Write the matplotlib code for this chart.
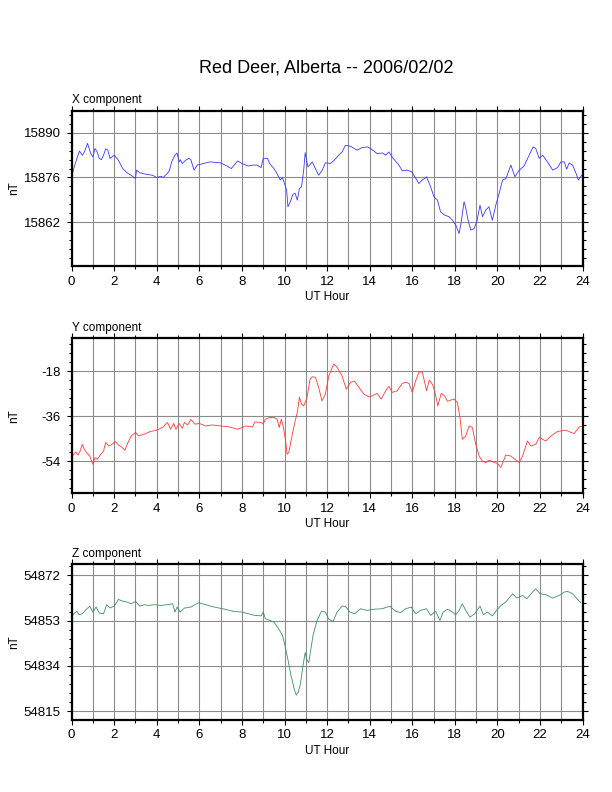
import numpy as np
import matplotlib
matplotlib.use('Agg')
import matplotlib.pyplot as plt
from matplotlib.ticker import MultipleLocator

plt.rcParams['font.family'] = ['Liberation Sans', 'DejaVu Sans']
plt.rcParams['axes.unicode_minus'] = False

# X component (nT) vs UT hour
x_hour = [0.0, 0.1, 0.3, 0.37, 0.5, 0.6, 0.75, 0.9, 1.0, 1.1, 1.2, 1.3, 1.4, 1.5, 1.6,
          1.7, 1.8, 1.9, 2.0, 2.2, 2.4, 2.6, 2.8, 3.0, 3.05, 3.2, 3.5, 3.8, 4.0, 4.2,
          4.3, 4.5, 4.6, 4.7, 4.85, 4.95, 5.05, 5.1, 5.2, 5.35, 5.5, 5.6, 5.75, 5.9,
          6.2, 6.5, 7.0, 7.3, 7.5, 7.8, 8.0, 8.3, 8.5, 8.7, 8.9, 9.0, 9.2, 9.3, 9.5,
          9.6, 9.8, 9.9, 10.0, 10.1, 10.16, 10.3, 10.4, 10.5, 10.6, 10.7, 10.8, 10.9,
          10.97, 11.1, 11.3, 11.45, 11.6, 11.77, 11.92, 12.15, 12.3, 12.55, 12.7,
          12.86, 13.1, 13.4, 13.65, 13.9, 14.1, 14.35, 14.6, 14.75, 14.9, 15.1, 15.37,
          15.53, 15.76, 15.97, 16.16, 16.31, 16.47, 16.67, 16.86, 17.02, 17.18, 17.33,
          17.52, 17.73, 17.88, 18.04, 18.2, 18.3, 18.43, 18.5, 18.62, 18.75, 18.9,
          19.03, 19.18, 19.3, 19.45, 19.6, 19.76, 19.92, 20.08, 20.24, 20.4, 20.63,
          20.82, 21.02, 21.25, 21.49, 21.68, 21.8, 21.96, 22.12, 22.35, 22.6, 22.82,
          22.98, 23.14, 23.25, 23.37, 23.53, 23.69, 23.8, 23.95]
x_nt = [15876.0, 15878.8, 15883.0, 15884.3, 15883.0, 15884.0, 15886.7, 15883.5, 15882.5,
        15885.1, 15884.0, 15882.0, 15881.6, 15883.0, 15885.0, 15884.6, 15882.0, 15882.5,
        15883.0, 15881.4, 15878.8, 15877.5, 15876.7, 15875.7, 15878.3, 15877.5, 15877.0,
        15876.7, 15876.0, 15876.4, 15876.0, 15877.3, 15878.3, 15880.9, 15883.0, 15883.7,
        15880.9, 15881.6, 15880.4, 15881.4, 15882.0, 15881.6, 15878.3, 15879.9, 15880.4,
        15880.9, 15880.6, 15879.6, 15878.8, 15881.2, 15880.4, 15879.6, 15879.9, 15879.9,
        15879.1, 15882.0, 15882.0, 15880.4, 15878.8, 15877.8, 15875.2, 15876.0, 15874.1,
        15872.0, 15866.8, 15868.9, 15870.8, 15871.0, 15868.9, 15872.5, 15873.1, 15878.3,
        15883.8, 15879.3, 15880.9, 15878.8, 15876.7, 15878.3, 15880.6, 15880.4, 15881.2,
        15883.0, 15884.0, 15886.1, 15885.8, 15884.6, 15885.4, 15885.6, 15884.8, 15883.5,
        15883.7, 15883.0, 15884.0, 15882.0, 15879.9, 15878.1, 15878.3, 15877.8, 15875.7,
        15874.1, 15875.2, 15876.2, 15873.1, 15869.9, 15868.9, 15865.2, 15864.2, 15863.7,
        15862.6, 15861.1, 15858.4, 15862.1, 15868.4, 15866.8, 15862.6, 15859.5, 15860.0,
        15862.1, 15867.3, 15863.7, 15865.8, 15866.8, 15862.6, 15867.3, 15871.0, 15875.2,
        15875.7, 15879.9, 15876.2, 15878.3, 15879.6, 15883.0, 15885.6, 15885.1, 15882.0,
        15883.0, 15880.9, 15878.3, 15879.1, 15880.9, 15880.9, 15878.6, 15880.6, 15879.9,
        15877.3, 15875.2, 15876.7]

# Y component (nT)
y_hour = [0.0, 0.1, 0.2, 0.3, 0.4, 0.5, 0.6, 0.7, 0.85, 1.0, 1.1, 1.2, 1.4, 1.5, 1.6,
          1.75, 1.9, 2.05, 2.2, 2.35, 2.5, 2.65, 2.8, 3.0, 3.15, 3.4, 3.7, 4.0, 4.3,
          4.5, 4.65, 4.8, 4.9, 5.05, 5.2, 5.3, 5.45, 5.6, 5.8, 6.0, 6.3, 6.6, 7.0, 7.4,
          7.8, 8.2, 8.5, 8.6, 8.9, 9.0, 9.1, 9.3, 9.5, 9.65, 9.75, 9.85, 9.95, 10.05,
          10.12, 10.2, 10.35, 10.5, 10.6, 10.7, 10.8, 10.9, 11.05, 11.2, 11.3, 11.45,
          11.6, 11.76, 11.92, 12.08, 12.31, 12.47, 12.7, 12.9, 13.1, 13.29, 13.49,
          13.73, 13.96, 14.12, 14.35, 14.54, 14.75, 14.9, 15.06, 15.29, 15.53, 15.69,
          15.84, 16.0, 16.16, 16.31, 16.47, 16.67, 16.8, 16.94, 17.05, 17.2, 17.36,
          17.52, 17.65, 17.8, 17.96, 18.12, 18.24, 18.35, 18.51, 18.67, 18.82, 18.98,
          19.14, 19.29, 19.45, 19.61, 19.76, 20.0, 20.16, 20.39, 20.63, 20.82, 21.02,
          21.18, 21.41, 21.57, 21.8, 21.96, 22.27, 22.51, 22.82, 23.22, 23.45, 23.61,
          23.84, 24.0]
y_nt = [-52.5, -51.2, -50.3, -51.5, -49.9, -47.2, -49.2, -50.5, -51.9, -55.2, -52.5,
        -53.2, -50.9, -49.9, -46.5, -47.9, -47.2, -46.1, -47.5, -48.3, -49.6, -46.5,
        -43.9, -42.5, -43.9, -43.2, -42.1, -41.6, -40.3, -38.5, -41.2, -38.9, -41.2,
        -38.9, -40.8, -38.5, -39.5, -37.3, -39.2, -38.9, -39.9, -39.5, -39.9, -40.3,
        -41.2, -39.9, -40.3, -38.3, -38.5, -39.2, -37.2, -36.5, -36.5, -37.2, -40.5,
        -37.2, -40.5, -45.9, -51.2, -50.5, -43.9, -37.9, -34.5, -28.5, -31.2, -31.9,
        -28.8, -21.2, -20.3, -20.5, -24.5, -29.9, -27.2, -19.9, -15.2, -16.5, -19.9,
        -25.2, -22.5, -22.1, -24.5, -27.2, -28.3, -27.9, -26.9, -29.2, -25.9, -24.1,
        -26.5, -25.9, -22.9, -22.5, -22.9, -26.5, -21.9, -18.5, -18.3, -25.9, -21.6,
        -23.2, -25.9, -31.9, -26.9, -27.9, -30.1, -29.6, -29.2, -30.5, -36.5, -45.2,
        -43.9, -39.9, -40.5, -47.2, -51.9, -53.9, -54.5, -53.6, -54.1, -54.9, -56.5,
        -51.5, -51.9, -53.2, -54.5, -51.9, -45.9, -47.9, -47.2, -44.5, -45.9, -43.9,
        -42.1, -41.6, -42.5, -42.9, -40.3, -39.9]

# Z component (nT)
z_hour = [0.0, 0.1, 0.25, 0.35, 0.5, 0.7, 0.85, 1.0, 1.15, 1.3, 1.5, 1.65, 1.8, 2.0,
          2.2, 2.4, 2.6, 2.8, 3.0, 3.2, 3.4, 3.6, 3.9, 4.2, 4.5, 4.75, 4.85, 4.95, 5.1,
          5.3, 5.6, 5.95, 6.3, 6.7, 7.2, 7.6, 8.0, 8.3, 8.6, 8.9, 9.0, 9.1, 9.3, 9.5,
          9.7, 9.9, 10.0, 10.15, 10.3, 10.45, 10.55, 10.65, 10.75, 10.87, 10.97, 11.05,
          11.14, 11.34, 11.53, 11.73, 11.92, 12.08, 12.28, 12.47, 12.7, 12.86, 13.07,
          13.29, 13.57, 13.88, 14.2, 14.59, 14.95, 15.22, 15.45, 15.69, 15.95, 16.16,
          16.39, 16.67, 16.86, 17.1, 17.3, 17.45, 17.65, 17.84, 18.04, 18.2, 18.35,
          18.51, 18.71, 18.93, 19.18, 19.34, 19.53, 19.76, 19.92, 20.16, 20.39, 20.71,
          20.91, 21.18, 21.38, 21.65, 21.8, 22.0, 22.27, 22.59, 22.9, 23.14, 23.29,
          23.53, 23.73, 23.92]
z_nt = [54854.5, 54855.9, 54856.9, 54855.5, 54855.9, 54857.8, 54859.1, 54856.6, 54858.7,
        54856.2, 54855.9, 54859.7, 54858.3, 54859.1, 54861.9, 54861.2, 54860.8, 54860.1,
        54861.1, 54859.1, 54859.7, 54859.4, 54859.7, 54859.4, 54859.7, 54860.1, 54856.6,
        54858.7, 54856.6, 54858.3, 54858.7, 54860.5, 54859.7, 54858.7, 54857.8, 54856.9,
        54856.6, 54855.9, 54855.2, 54855.0, 54856.6, 54853.8, 54853.1, 54852.4, 54849.9,
        54846.9, 54843.4, 54837.1, 54830.1, 54824.5, 54821.7, 54823.1, 54826.6, 54834.3,
        54839.6, 54836.5, 54835.4, 54846.9, 54853.1, 54856.9, 54856.6, 54853.6, 54852.7,
        54856.6, 54859.1, 54859.0, 54856.6, 54855.9, 54858.0, 54857.3, 54857.8, 54858.0,
        54859.1, 54856.9, 54856.4, 54858.0, 54858.7, 54855.9, 54857.3, 54858.0, 54855.2,
        54856.9, 54853.1, 54856.6, 54857.8, 54856.9, 54855.5, 54857.3, 54860.1, 54857.3,
        54854.5, 54855.9, 54859.1, 54855.5, 54856.6, 54855.0, 54856.9, 54859.4, 54860.8,
        54864.3, 54862.5, 54863.6, 54862.2, 54865.0, 54866.4, 54864.3, 54863.9, 54862.5,
        54863.6, 54865.0, 54865.3, 54864.3, 54862.2, 54860.5]

panels = [
    ('X component', x_hour, x_nt, '#3a3aff', (15848.2, 15896.9), [15862, 15876, 15890], 14),
    ('Y component', y_hour, y_nt, '#ff3a3a', (-66.8, -4.9), [-54, -36, -18], 18),
    ('Z component', z_hour, z_nt, '#3f8f5f', (54811.4, 54876.6), [54815, 54834, 54853, 54872], 19),
]
bottoms = [0.664, 0.377, 0.0913]

fig = plt.figure(figsize=(6.12, 7.92), dpi=100)
fig.text(0.533, 0.914, 'Red Deer, Alberta -- 2006/02/02', ha='center', va='center', fontsize=13)

for (name, t, v, color, ylim, yticks, step), b in zip(panels, bottoms):
    ax = fig.add_axes([0.117, b, 0.835, 0.196])
    ax.plot(t, v, color=color, lw=0.6)
    ax.set_xlim(0, 24)
    ax.set_ylim(*ylim)
    ax.xaxis.set_major_locator(MultipleLocator(2))
    ax.xaxis.set_minor_locator(MultipleLocator(1))
    ax.set_yticks(yticks)
    ax.yaxis.set_minor_locator(MultipleLocator(step / 5))
    ax.grid(True, which='major', color='#8c8c8c', lw=0.8)
    ax.grid(True, which='minor', axis='x', color='#8c8c8c', lw=0.8)
    ax.tick_params(which='both', direction='out', top=True, right=True,
                   labelsize=9.5, width=0.8, colors='black')
    ax.tick_params(which='major', length=3.5)
    ax.tick_params(which='minor', length=2.2)
    ax.tick_params(axis='x', which='major', pad=3.5)
    ax.tick_params(axis='y', which='major', pad=4.5)
    for s in ax.spines.values():
        s.set_linewidth(1.6)
    ax.text(0, 1.03, name, transform=ax.transAxes, ha='left', va='bottom', fontsize=8.5)
    ax.text(-0.113, 0.5, 'nT', transform=ax.transAxes, ha='center', va='center',
            rotation=90, fontsize=8.5)
    ax.text(0.5, -0.2, 'UT Hour', transform=ax.transAxes, ha='center', va='center',
            fontsize=8.5)

fig.savefig('out.png', dpi=100)
